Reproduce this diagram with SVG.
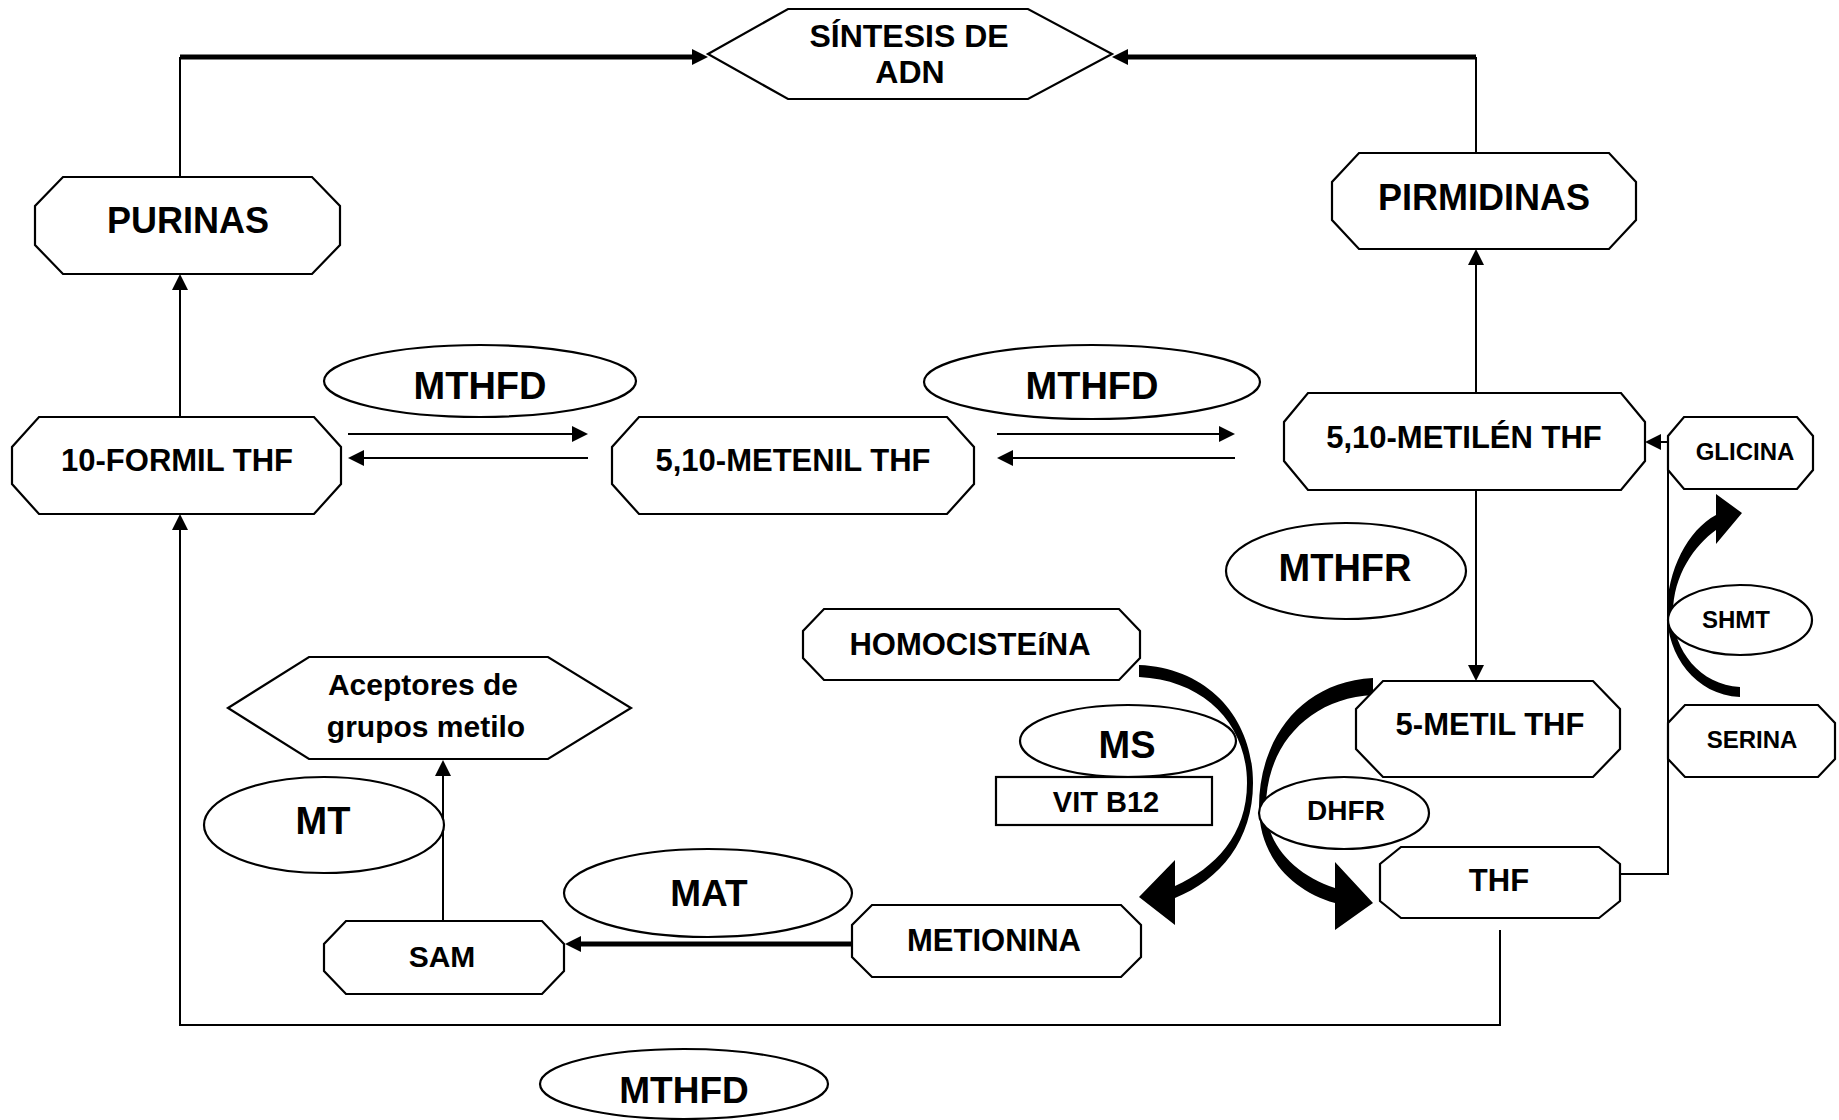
<svg xmlns="http://www.w3.org/2000/svg" width="1839" height="1120" viewBox="0 0 1839 1120">
<defs>
<style>
.box{fill:#fff;stroke:#000;stroke-width:2.2;stroke-linejoin:miter}
.t{font-family:"Liberation Sans",Arial,sans-serif;font-weight:bold;text-anchor:middle;fill:#000}
.ln{fill:none;stroke:#000;stroke-width:2}
.thk{fill:none;stroke:#000;stroke-width:5}
.curve{fill:#000;stroke:none}
</style>
<marker id="ah" viewBox="0 0 16 16" refX="0" refY="8" markerWidth="16" markerHeight="16" markerUnits="userSpaceOnUse" orient="auto">
<path d="M0,0 L16,8 L0,16 Z" fill="#000"/>
</marker>
</defs>
<rect width="1839" height="1120" fill="#fff"/>

<g id="connectors">
<path class="ln" d="M180,177 V57"/>
<path class="thk" d="M180,57 H692" marker-end="url(#ah)"/>
<path class="ln" d="M1476,153 V57"/>
<path class="thk" d="M1476,57 H1128" marker-end="url(#ah)"/>
<path class="ln" d="M180,417 V290" marker-end="url(#ah)"/>
<path class="ln" d="M1476,393 V265" marker-end="url(#ah)"/>
<path class="ln" d="M348,434 H572" marker-end="url(#ah)"/>
<path class="ln" d="M588,458 H364" marker-end="url(#ah)"/>
<path class="ln" d="M997,434 H1219" marker-end="url(#ah)"/>
<path class="ln" d="M1235,458 H1013" marker-end="url(#ah)"/>
<path class="ln" d="M1476,490 V665" marker-end="url(#ah)"/>
<path class="ln" d="M1500,930 V1025 H180 V530" marker-end="url(#ah)"/>
<path class="ln" d="M1620,874 H1668 V442 H1661" marker-end="url(#ah)"/>
<path class="thk" d="M852,944 H581" marker-end="url(#ah)"/>
<path class="ln" d="M443,921 V776" marker-end="url(#ah)"/>
<path class="curve" d="M1139,665 C1210,668 1253,720 1253,783 C1253,840 1220,880 1175,898 L1175,925 L1139,897 L1175,860 L1175,886 C1215,868 1247,835 1247,783 C1247,725 1205,680 1139,677 Z"/>
<path class="curve" d="M1373,678 C1300,682 1259,740 1259,807 C1259,855 1290,890 1335,903 L1335,930 L1373,903 L1335,862 L1335,888 C1295,875 1266,845 1266,807 C1266,745 1310,698 1373,695 Z"/>
<path class="curve" d="M1740,697 C1695,695 1667,655 1667,613 C1667,570 1688,530 1716,515 L1716,494 L1742,513 L1716,544 L1716,530 C1695,545 1673,575 1673,613 C1673,650 1700,685 1740,687 Z"/>
</g>

<g id="sintesis">
<polygon class="box" points="708,54 788,9 1028,9 1112,54 1028,99 788,99"/>
<text class="t" x="909" y="47" font-size="32">SÍNTESIS DE</text>
<text class="t" x="910" y="83" font-size="32">ADN</text>
</g>

<g id="purinas">
<polygon class="box" points="63,177 312,177 340,206 340,245 312,274 63,274 35,245 35,206"/>
<text class="t" x="188" y="233" font-size="36">PURINAS</text>
</g>

<g id="pirmidinas">
<polygon class="box" points="1359,153 1609,153 1636,182 1636,220 1609,249 1359,249 1332,220 1332,182"/>
<text class="t" x="1484" y="210" font-size="36">PIRMIDINAS</text>
</g>

<g id="formil">
<polygon class="box" points="39,417 314,417 341,447 341,484 314,514 39,514 12,484 12,447"/>
<text class="t" x="177" y="471" font-size="31">10-FORMIL THF</text>
</g>

<g id="metenil">
<polygon class="box" points="639,417 947,417 974,447 974,484 947,514 639,514 612,484 612,447"/>
<text class="t" x="793" y="471" font-size="31">5,10-METENIL THF</text>
</g>

<g id="metilen">
<polygon class="box" points="1308,393 1621,393 1645,422 1645,461 1621,490 1308,490 1284,461 1284,422"/>
<text class="t" x="1464" y="448" font-size="31">5,10-METILÉN THF</text>
</g>

<g id="metil">
<polygon class="box" points="1383,681 1593,681 1620,709 1620,749 1593,777 1383,777 1356,749 1356,709"/>
<text class="t" x="1490" y="735" font-size="31">5-METIL THF</text>
</g>

<g id="thf">
<polygon class="box" points="1401,847 1599,847 1620,864 1620,901 1599,918 1401,918 1380,901 1380,864"/>
<text class="t" x="1499" y="891" font-size="31">THF</text>
</g>

<g id="homocisteina">
<polygon class="box" points="824,609 1119,609 1140,631 1140,658 1119,680 824,680 803,658 803,631"/>
<text class="t" x="970" y="655" font-size="31">HOMOCISTEíNA</text>
</g>

<g id="metionina">
<polygon class="box" points="872,905 1121,905 1141,925 1141,957 1121,977 872,977 852,957 852,925"/>
<text class="t" x="994" y="951" font-size="31">METIONINA</text>
</g>

<g id="sam">
<polygon class="box" points="346,921 542,921 564,944 564,971 542,994 346,994 324,971 324,944"/>
<text class="t" x="442" y="967" font-size="30">SAM</text>
</g>

<g id="aceptores">
<polygon class="box" points="228,708 309,657 548,657 631,708 548,759 309,759"/>
<text class="t" x="423" y="695" font-size="30">Aceptores de</text>
<text class="t" x="426" y="737" font-size="30">grupos metilo</text>
</g>

<g id="glicina">
<polygon class="box" points="1684,417 1797,417 1813,436 1813,470 1797,489 1684,489 1668,470 1668,436"/>
<text class="t" x="1745" y="460" font-size="24">GLICINA</text>
</g>

<g id="serina">
<polygon class="box" points="1685,705 1818,705 1835,723 1835,759 1818,777 1685,777 1668,759 1668,723"/>
<text class="t" x="1752" y="748" font-size="24">SERINA</text>
</g>

<g id="mthfd1">
<ellipse class="box" cx="480" cy="381" rx="156" ry="36"/>
<text class="t" x="480" y="399" font-size="38">MTHFD</text>
</g>

<g id="mthfd2">
<ellipse class="box" cx="1092" cy="382" rx="168" ry="37"/>
<text class="t" x="1092" y="399" font-size="38">MTHFD</text>
</g>

<g id="mthfr">
<ellipse class="box" cx="1346" cy="571" rx="120" ry="48"/>
<text class="t" x="1345" y="581" font-size="38">MTHFR</text>
</g>

<g id="shmt">
<ellipse class="box" cx="1740" cy="620" rx="72" ry="35"/>
<text class="t" x="1736" y="628" font-size="24">SHMT</text>
</g>

<g id="ms">
<ellipse class="box" cx="1128" cy="741" rx="108" ry="36"/>
<text class="t" x="1127" y="758" font-size="38">MS</text>
</g>

<g id="vitb12">
<rect class="box" x="996" y="777" width="216" height="48"/>
<text class="t" x="1106" y="812" font-size="29">VIT B12</text>
</g>

<g id="dhfr">
<ellipse class="box" cx="1344" cy="813" rx="85" ry="36"/>
<text class="t" x="1346" y="820" font-size="28">DHFR</text>
</g>

<g id="mt">
<ellipse class="box" cx="324" cy="825" rx="120" ry="48"/>
<text class="t" x="323" y="834" font-size="38">MT</text>
</g>

<g id="mat">
<ellipse class="box" cx="708" cy="893" rx="144" ry="44"/>
<text class="t" x="709" y="906" font-size="37">MAT</text>
</g>

<g id="mthfd3">
<ellipse class="box" cx="684" cy="1084" rx="144" ry="35"/>
<text class="t" x="684" y="1103" font-size="37">MTHFD</text>
</g>
</svg>
